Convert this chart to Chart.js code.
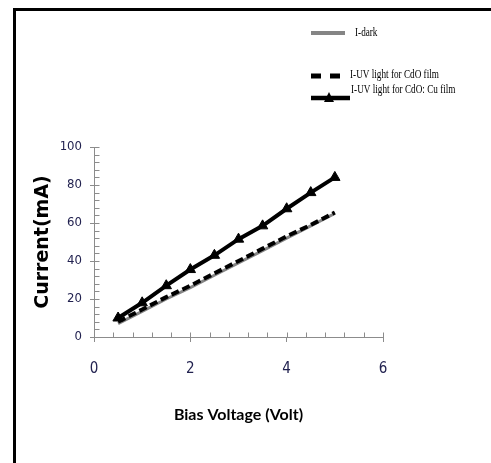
<!DOCTYPE html>
<html>
<head>
    <title>I-V characteristics</title>
    <script src="https://cdn.jsdelivr.net/npm/chart.js"></script>
    <style>
        body { margin: 0; background: #fff; }
        #wrap { position: relative; width: 491px; height: 463px; }
        #frame {
            position: absolute; left: 13px; top: 8px; width: 500px; height: 470px;
            border-left: 3px solid #000; border-top: 3px solid #000;
        }
        #ivChart { position: absolute; left: 0; top: 0; }
    </style>
</head>
<body>
<div id="wrap">
    <div id="frame"></div>
    <canvas id="ivChart" width="491" height="463"></canvas>
</div>
<script>
    // bias voltage (V) and measured currents (mA)
    var voltage = [0.5, 1, 1.5, 2, 2.5, 3, 3.5, 4, 4.5, 5];
    var darkCurrent = [7, 13.5, 20, 26, 32.5, 39, 45.5, 52, 58.5, 65];
    var uvCdO = [8, 14.5, 21, 27, 33.5, 40, 46.5, 53, 59, 65.5];
    var uvCdOCu = [10, 18, 27, 35.5, 43, 51.5, 58.5, 67.5, 76, 84];
    var xTicks = [0, 2, 4, 6];
    var yTicks = [0, 20, 40, 60, 80, 100];

    function toPoints(ys) {
        return ys.map(function (y, i) { return {x: voltage[i], y: y}; });
    }

    var axisGray = '#8c8c8c';
    var tickText = '#222250';
    var tickFamily = '"DejaVu Sans Condensed", "DejaVu Sans", sans-serif';

    // small ticks inside the axes, between the labelled ones
    var minorTicks = {
        id: 'minorTicks',
        afterDatasetsDraw: function (chart) {
            var ctx = chart.ctx, xs = chart.scales.x, ys = chart.scales.y;
            var x0 = Math.round(xs.getPixelForValue(0)) + 0.5;
            var y0 = Math.round(ys.getPixelForValue(0)) + 0.5;
            ctx.save();
            ctx.strokeStyle = axisGray;
            ctx.lineWidth = 1;
            ctx.beginPath();
            for (var v = 0; v <= 6.001; v += 0.4) {
                var px = Math.round(xs.getPixelForValue(v)) + 0.5;
                ctx.moveTo(px, y0);
                ctx.lineTo(px, y0 - 5);
            }
            for (var w = 0; w <= 100.001; w += 4) {
                var py = Math.round(ys.getPixelForValue(w)) + 0.5;
                ctx.moveTo(x0, py);
                ctx.lineTo(x0 + 5, py);
            }
            ctx.stroke();
            ctx.restore();
        }
    };

    function legendText(ctx, text, x, y) {
        ctx.save();
        ctx.translate(x, y);
        ctx.scale(0.92, 1.3);
        ctx.fillText(text, 0, 0);
        ctx.restore();
    }

    // legend in the top right corner
    var cornerLegend = {
        id: 'cornerLegend',
        afterDraw: function (chart) {
            var ctx = chart.ctx;
            var ds = chart.data.datasets;
            ctx.save();
            ctx.font = '10px "Liberation Serif", serif';
            ctx.fillStyle = '#000';
            ctx.textBaseline = 'middle';

            // I-dark
            ctx.strokeStyle = ds[2].borderColor;
            ctx.lineWidth = 4;
            ctx.beginPath(); ctx.moveTo(311, 33); ctx.lineTo(345, 33); ctx.stroke();
            legendText(ctx, ds[2].label, 355, 33);

            // dashed
            ctx.strokeStyle = ds[1].borderColor;
            ctx.lineWidth = 5;
            ctx.setLineDash([10, 9]);
            ctx.beginPath(); ctx.moveTo(311, 76); ctx.lineTo(341, 76); ctx.stroke();
            ctx.setLineDash([]);
            legendText(ctx, ds[1].label, 350, 75);

            // with triangles
            ctx.strokeStyle = ds[0].borderColor;
            ctx.lineWidth = 4.5;
            ctx.beginPath(); ctx.moveTo(311, 98); ctx.lineTo(350, 98); ctx.stroke();
            ctx.fillStyle = ds[0].pointBackgroundColor;
            ctx.beginPath();
            ctx.moveTo(329, 92); ctx.lineTo(334, 102); ctx.lineTo(324, 102);
            ctx.closePath(); ctx.fill();
            ctx.fillStyle = '#000';
            legendText(ctx, ds[0].label, 351, 90);
            ctx.restore();
        }
    };

    var ctx = document.getElementById('ivChart').getContext('2d');
    new Chart(ctx, {
        type: 'line',
        data: {
            datasets: [
                {
                    label: 'I-UV light for CdO: Cu film',
                    data: toPoints(uvCdOCu),
                    borderColor: '#000',
                    borderWidth: 4,
                    pointStyle: 'triangle',
                    pointRadius: 6,
                    pointBackgroundColor: '#000',
                    pointBorderColor: '#000',
                    pointBorderWidth: 1
                },
                {
                    label: 'I-UV light for CdO film',
                    data: toPoints(uvCdO),
                    borderColor: '#000',
                    borderWidth: 4,
                    borderDash: [8, 4],
                    pointRadius: 0
                },
                {
                    label: 'I-dark',
                    data: toPoints(darkCurrent),
                    borderColor: '#858585',
                    borderWidth: 3,
                    pointRadius: 0
                }
            ]
        },
        options: {
            responsive: false,
            animation: false,
            events: [],
            layout: { padding: { top: 147, right: 108, bottom: 39, left: 0 } },
            plugins: { legend: { display: false }, tooltip: { enabled: false } },
            scales: {
                x: {
                    type: 'linear',
                    min: 0, max: 6,
                    afterBuildTicks: function (s) { s.ticks = xTicks.map(function (v) { return {value: v}; }); },
                    afterFit: function (s) { s.height = 87; },
                    border: { color: axisGray, width: 1 },
                    grid: { drawOnChartArea: false, color: axisGray, tickLength: 5 },
                    ticks: {
                        color: tickText,
                        padding: 18,
                        font: { family: tickFamily, size: 15 }
                    },
                    title: {
                        display: true,
                        text: 'Bias Voltage (Volt)',
                        color: '#000',
                        padding: { top: 0, bottom: 0 },
                        font: { family: 'Lato, sans-serif', size: 16, weight: 'bold' }
                    }
                },
                y: {
                    min: 0, max: 100,
                    afterBuildTicks: function (s) { s.ticks = yTicks.map(function (v) { return {value: v}; }); },
                    afterFit: function (s) { s.width = 94; },
                    border: { color: axisGray, width: 1 },
                    grid: { drawOnChartArea: false, color: axisGray, tickLength: 4 },
                    ticks: {
                        color: tickText,
                        padding: 8,
                        font: { family: tickFamily, size: 13 }
                    },
                    title: {
                        display: true,
                        text: 'Current(mA)',
                        color: '#000',
                        padding: { top: 32, bottom: 0 },
                        font: { family: '"DejaVu Sans", sans-serif', size: 19, weight: 'bold' }
                    }
                }
            }
        },
        plugins: [minorTicks, cornerLegend]
    });
</script>
</body>
</html>
